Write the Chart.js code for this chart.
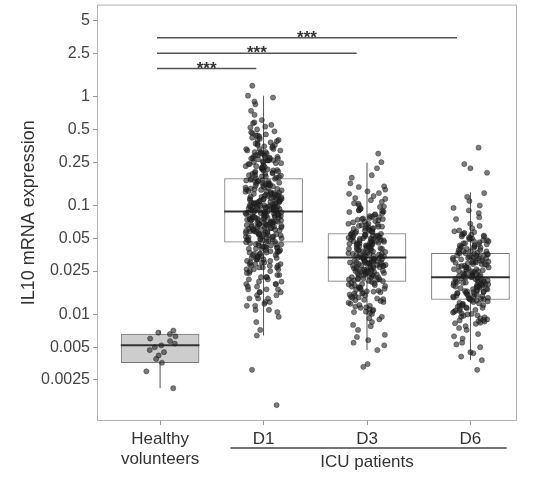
<!DOCTYPE html>
<html lang="en">
<head>
<meta charset="UTF-8">
<title>IL10 mRNA expression</title>
<style>
  body { margin: 0; background: #fff; }
  #wrap { width: 538px; height: 477px; }
</style>
</head>
<body>
<div id="wrap"><canvas id="il10Chart" width="538" height="477"></canvas></div>
<script src="https://cdn.jsdelivr.net/npm/chart.js"></script>
<script>
// categories on the x axis (positions 1..4)
const groups = [['Healthy', 'volunteers'], 'D1', 'D3', 'D6'];
const yTicks = [5, 2.5, 1, 0.5, 0.25, 0.1, 0.05, 0.025, 0.01, 0.005, 0.0025];
const yTickLabels = ['5', '2.5', '1', '0.5', '0.25', '0.1', '0.05', '0.025', '0.01', '0.005', '0.0025'];

// box statistics
const boxQ1 = [0.0036, 0.046, 0.0201, 0.0137];
const boxMedian = [0.0052, 0.088, 0.0333, 0.0219];
const boxQ3 = [0.0066, 0.177, 0.0553, 0.0363];
const whiskerLow = [0.0021, 0.0064, 0.0047, 0.0038];
const whiskerHigh = [0.0071, 1.02, 0.248, 0.132];

// individual samples (estimated from the jittered points)
const healthyValues = [0.0021, 0.003, 0.0036, 0.0039, 0.0042, 0.0045, 0.0047, 0.005, 0.0052, 0.0054,
  0.0057, 0.006, 0.0063, 0.0066, 0.0068, 0.0071];
const d1Values = [1.26, 1.02, 0.98, 0.85, 0.74, 0.68, 0.61, 0.57, 0.53, 0.9,
  0.48, 0.46, 0.44, 0.42, 0.41, 0.4, 0.38, 0.37, 0.36, 0.35, 0.34, 0.33, 0.32, 0.31, 0.3, 0.3,
  0.29, 0.29, 0.28, 0.28, 0.27, 0.27, 0.26, 0.26, 0.26, 0.25, 0.45, 0.39, 0.33, 0.31, 0.27,
  0.245, 0.24, 0.235, 0.23, 0.225, 0.22, 0.215, 0.21, 0.205, 0.2, 0.198, 0.195, 0.19, 0.188,
  0.185, 0.182, 0.18, 0.178, 0.212,
  0.175, 0.172, 0.17, 0.167, 0.165, 0.162, 0.16, 0.158, 0.155, 0.152, 0.15, 0.148, 0.145, 0.142,
  0.14, 0.138, 0.135, 0.133, 0.13, 0.128, 0.126, 0.124, 0.122, 0.12, 0.118, 0.116, 0.114, 0.112,
  0.11, 0.109, 0.107, 0.106, 0.104, 0.103, 0.102, 0.1, 0.099, 0.098, 0.097, 0.096, 0.095, 0.094,
  0.093, 0.092, 0.091, 0.09, 0.089, 0.088, 0.1, 0.105, 0.11, 0.115, 0.12, 0.125, 0.13, 0.095,
  0.098, 0.101, 0.108, 0.113,
  0.087, 0.086, 0.085, 0.084, 0.083, 0.082, 0.081, 0.08, 0.079, 0.078, 0.077, 0.076, 0.075, 0.074,
  0.073, 0.072, 0.071, 0.07, 0.069, 0.068, 0.067, 0.066, 0.065, 0.064, 0.063, 0.062, 0.061, 0.06,
  0.059, 0.058, 0.057, 0.056, 0.055, 0.054, 0.053, 0.052, 0.051, 0.05, 0.049, 0.048, 0.047, 0.046,
  0.085, 0.08, 0.075, 0.07, 0.065, 0.06, 0.055, 0.05, 0.082, 0.078, 0.072, 0.068, 0.063, 0.058,
  0.053, 0.048, 0.077, 0.066,
  0.045, 0.044, 0.043, 0.042, 0.041, 0.04, 0.039, 0.038, 0.037, 0.036, 0.035, 0.034, 0.033, 0.032,
  0.031, 0.03, 0.029, 0.028, 0.027, 0.026, 0.025, 0.044, 0.042, 0.04, 0.038, 0.036, 0.034, 0.032,
  0.03, 0.028, 0.026, 0.041, 0.037, 0.033, 0.029, 0.027,
  0.024, 0.023, 0.022, 0.021, 0.02, 0.019, 0.018, 0.017, 0.016, 0.015, 0.014, 0.013, 0.012, 0.011,
  0.0105, 0.022, 0.019, 0.016, 0.014, 0.012, 0.02, 0.017,
  0.0085, 0.0072, 0.0064, 0.0031, 0.00147,
  0.58, 0.55, 0.5, 0.47, 0.43, 0.4, 0.37, 0.35, 0.33, 0.32, 0.31, 0.3, 0.52, 0.44, 0.36,
  0.29, 0.28, 0.27, 0.26, 0.25, 0.24, 0.23, 0.22, 0.21, 0.2, 0.19, 0.185, 0.265, 0.245, 0.225,
  0.205, 0.195, 0.275, 0.255, 0.215,
  0.176, 0.171, 0.166, 0.161, 0.156, 0.151, 0.146, 0.141, 0.136, 0.131, 0.127, 0.123, 0.119, 0.115,
  0.111, 0.108, 0.105, 0.102, 0.099, 0.096, 0.093, 0.09, 0.168, 0.153, 0.139, 0.126, 0.117, 0.106,
  0.097, 0.091, 0.159, 0.143, 0.121, 0.101, 0.094, 0.134, 0.113, 0.0985, 0.0925, 0.0895,
  0.0875, 0.0845, 0.0815, 0.0785, 0.0755, 0.0725, 0.0695, 0.0665, 0.0635, 0.0605, 0.0575, 0.0545,
  0.0515, 0.0485, 0.0465, 0.086, 0.079, 0.073, 0.067, 0.061, 0.056, 0.051, 0.047, 0.083, 0.074,
  0.064, 0.057, 0.049, 0.081, 0.069, 0.059, 0.052, 0.0865, 0.0765, 0.0675, 0.0585, 0.0505, 0.071,
  0.062, 0.054,
  0.045, 0.043, 0.041, 0.039, 0.037, 0.035, 0.033, 0.031, 0.029, 0.027, 0.025, 0.023, 0.021, 0.044,
  0.04, 0.036, 0.032, 0.028, 0.024, 0.042, 0.034, 0.026, 0.038, 0.03, 0.022,
  0.019, 0.017, 0.015, 0.013, 0.011, 0.018, 0.014, 0.0095, 0.016, 0.0125];
const d3Values = [0.3, 0.25, 0.22, 0.19, 0.16,
  0.148, 0.14, 0.135, 0.128, 0.122, 0.117, 0.112, 0.108, 0.104, 0.1,
  0.097, 0.094, 0.091, 0.088, 0.085, 0.082, 0.08, 0.078, 0.076, 0.074, 0.072, 0.07, 0.068, 0.066,
  0.065, 0.064, 0.063, 0.062, 0.061, 0.06, 0.059, 0.058, 0.057, 0.056, 0.09, 0.075, 0.067,
  0.055, 0.054, 0.053, 0.052, 0.051, 0.05, 0.049, 0.048, 0.047, 0.046, 0.045, 0.044, 0.043, 0.042,
  0.041, 0.04, 0.039, 0.038, 0.037, 0.036, 0.035, 0.034, 0.0335, 0.054, 0.052, 0.05, 0.048, 0.046,
  0.044, 0.042, 0.04, 0.038, 0.036, 0.034, 0.051, 0.047, 0.043, 0.039, 0.035, 0.045, 0.041, 0.037,
  0.0345,
  0.033, 0.0325, 0.032, 0.0315, 0.031, 0.0305, 0.03, 0.0295, 0.029, 0.0285, 0.028, 0.0275, 0.027,
  0.0265, 0.026, 0.0255, 0.025, 0.0245, 0.024, 0.0235, 0.023, 0.0225, 0.022, 0.0215, 0.021, 0.0205,
  0.0202, 0.032, 0.03, 0.028, 0.026, 0.024, 0.022, 0.031, 0.029, 0.027, 0.025, 0.023, 0.021, 0.0335,
  0.0285, 0.0245, 0.0215,
  0.0198, 0.0192, 0.0186, 0.018, 0.0175, 0.017, 0.0165, 0.016, 0.0155, 0.015, 0.0145, 0.014, 0.0135,
  0.013, 0.0125, 0.012, 0.0115, 0.011, 0.0105, 0.0101, 0.019, 0.0178, 0.0168, 0.0158, 0.0148,
  0.0138, 0.0128, 0.0118, 0.0108, 0.0185, 0.0162, 0.0142,
  0.0095, 0.009, 0.0085, 0.008, 0.0072, 0.0065, 0.0058, 0.0052,
  0.0047, 0.0035, 0.0033,
  0.18, 0.15, 0.13, 0.115, 0.105,
  0.098, 0.093, 0.087, 0.083, 0.079, 0.075, 0.071, 0.068, 0.064, 0.061, 0.058, 0.056, 0.089, 0.077,
  0.066, 0.059, 0.073, 0.062,
  0.0545, 0.0535, 0.0525, 0.0515, 0.0505, 0.0495, 0.0485, 0.0475, 0.0465, 0.0455, 0.0445, 0.0435,
  0.0425, 0.0415, 0.0405, 0.0395, 0.0385, 0.0375, 0.0365, 0.0355, 0.0345, 0.034, 0.053, 0.049,
  0.044, 0.04, 0.036, 0.046,
  0.0328, 0.0322, 0.0318, 0.0312, 0.0308, 0.0302, 0.0298, 0.0292, 0.0288, 0.0282, 0.0278, 0.0272,
  0.0268, 0.0262, 0.0258, 0.0252, 0.0248, 0.0242, 0.0238, 0.0232, 0.0228, 0.0222, 0.0218, 0.0212,
  0.0208, 0.0203, 0.03, 0.025,
  0.0195, 0.0188, 0.0182, 0.0172, 0.0163, 0.0152, 0.0143, 0.0133, 0.0122, 0.0112, 0.0103, 0.0176,
  0.0156, 0.0136, 0.0116, 0.0106,
  0.0092, 0.0078, 0.0062, 0.0055];
const d6Values = [0.34, 0.24, 0.22, 0.2, 0.13,
  0.12, 0.11, 0.095, 0.085, 0.075, 0.068, 0.062,
  0.059, 0.057, 0.055, 0.053, 0.051, 0.05, 0.048, 0.047, 0.046, 0.045, 0.044, 0.043, 0.042, 0.041,
  0.04, 0.039, 0.038, 0.037, 0.0365, 0.054, 0.049, 0.044, 0.041, 0.038, 0.052,
  0.036, 0.035, 0.034, 0.033, 0.032, 0.031, 0.03, 0.029, 0.028, 0.027, 0.026, 0.025, 0.024, 0.023,
  0.022, 0.0355, 0.0335, 0.0315, 0.0295, 0.0275, 0.0255, 0.0235, 0.0225, 0.034, 0.03, 0.026, 0.024,
  0.023, 0.0345, 0.0325, 0.0305, 0.0285, 0.0265, 0.0245, 0.0222,
  0.0218, 0.0214, 0.021, 0.0206, 0.0202, 0.0198, 0.0194, 0.019, 0.0186, 0.0182, 0.0178, 0.0174,
  0.017, 0.0166, 0.0162, 0.0158, 0.0154, 0.015, 0.0146, 0.0142, 0.0138, 0.0212, 0.0204, 0.0196,
  0.0188, 0.018, 0.0172, 0.0164, 0.0156, 0.0148, 0.014, 0.02, 0.0185, 0.016, 0.0145,
  0.0135, 0.013, 0.0126, 0.0122, 0.0118, 0.0114, 0.011, 0.0106, 0.0102, 0.0098, 0.0094, 0.009,
  0.0086, 0.0082, 0.0132, 0.0124, 0.0116, 0.0108, 0.01, 0.0092, 0.0084, 0.012, 0.0104, 0.0088,
  0.0078, 0.0072, 0.0066, 0.006, 0.0055, 0.005, 0.0045, 0.0041,
  0.0038, 0.0031,
  0.1, 0.09, 0.078, 0.065,
  0.058, 0.056, 0.054, 0.05, 0.047, 0.045, 0.043, 0.041, 0.039, 0.037, 0.0365, 0.052, 0.048, 0.042,
  0.038,
  0.0358, 0.0348, 0.0338, 0.0328, 0.0318, 0.0308, 0.0298, 0.0288, 0.0278, 0.0268, 0.0258, 0.0248,
  0.0238, 0.0228, 0.0221, 0.033, 0.029, 0.025, 0.0225, 0.031, 0.027, 0.0235,
  0.0216, 0.0208, 0.0199, 0.0191, 0.0183, 0.0176, 0.0168, 0.0161, 0.0153, 0.0147, 0.0141, 0.0139,
  0.0205, 0.0189, 0.0171, 0.0157, 0.0143, 0.0195, 0.0179, 0.0163, 0.0151, 0.0137,
  0.0134, 0.0128, 0.0121, 0.0115, 0.0109, 0.0101, 0.0095, 0.0089, 0.0083, 0.0125, 0.0112, 0.0097,
  0.0087,
  0.0075, 0.0063, 0.0053, 0.0044];
const groupValues = [healthyValues, d1Values, d3Values, d6Values];

// significance brackets (x in category units, y in expression units)
const sigStart = [0.97, 0.97, 0.97];
const sigEnd = [1.93, 2.9, 3.87];
const sigY = [1.81, 2.5, 3.48];
const sigLabels = ['***', '***', '***'];

// ICU patients group bracket under the axis
const icuStart = 1.68;
const icuEnd = 4.35;
const icuLabel = 'ICU patients';

const FONT = "'Liberation Sans', Arial, sans-serif";
const BOX_HALF = 0.38;
const JITTER = [0.15, 0.175, 0.18, 0.18];

// deterministic spread for the horizontal jitter
function spread(k) {
    const s = Math.sin((k + 1) * 12.9898) * 43758.5453;
    return (s - Math.floor(s)) * 2 - 1;
}

const datasets = [];

// whiskers (drawn underneath the boxes)
groups.forEach((g, i) => {
    datasets.push({
        type: 'line', order: 6,
        data: [{ x: i + 1, y: whiskerLow[i] }, { x: i + 1, y: whiskerHigh[i] }],
        borderColor: '#555', borderWidth: 1, pointRadius: 0
    });
});

// boxes as floating bars
datasets.push({
    type: 'bar', order: 5,
    data: groups.map((g, i) => ({ x: i + 1, y: [boxQ1[i], boxQ3[i]] })),
    backgroundColor: ['#cdcdcd', '#ffffff', '#ffffff', '#ffffff'],
    borderColor: '#777', borderWidth: 1, borderSkipped: false,
    barThickness: 78
});

// medians
groups.forEach((g, i) => {
    datasets.push({
        type: 'line', order: 4,
        data: [{ x: i + 1 - BOX_HALF, y: boxMedian[i] }, { x: i + 1 + BOX_HALF, y: boxMedian[i] }],
        borderColor: '#333', borderWidth: 2, pointRadius: 0
    });
});

// jittered points
groupValues.forEach((vals, i) => {
    datasets.push({
        type: 'scatter', order: 1,
        data: vals.map((v, k) => ({ x: i + 1 + spread(k + i * 1000) * JITTER[i], y: v })),
        pointRadius: 2.6,
        backgroundColor: 'rgba(35,35,35,0.6)',
        borderColor: 'rgba(20,20,20,0.6)',
        borderWidth: 0.6
    });
});

// significance lines
sigY.forEach((y, i) => {
    datasets.push({
        type: 'line', order: 0,
        data: [{ x: sigStart[i], y: y }, { x: sigEnd[i], y: y }],
        borderColor: '#555', borderWidth: 1.5, pointRadius: 0
    });
});

const extras = {
    id: 'extras',
    afterDraw(chart) {
        const { ctx, chartArea, scales } = chart;
        ctx.save();
        // panel border
        ctx.strokeStyle = '#b3b3b3';
        ctx.lineWidth = 1;
        ctx.strokeRect(chartArea.left + 0.5, chartArea.top + 0.5,
            chartArea.right - chartArea.left - 1, chartArea.bottom - chartArea.top - 1);

        // stars above the brackets
        ctx.fillStyle = '#333';
        ctx.font = 'bold 17px ' + FONT;
        ctx.textAlign = 'center';
        ctx.textBaseline = 'alphabetic';
        sigLabels.forEach((lab, i) => {
            const x = scales.x.getPixelForValue((sigStart[i] + sigEnd[i]) / 2);
            const y = scales.y.getPixelForValue(sigY[i]);
            ctx.fillText(lab, x, y + 5);
        });

        // ICU patients bracket
        const y0 = chartArea.bottom + 27;
        ctx.strokeStyle = '#444';
        ctx.lineWidth = 1.5;
        ctx.beginPath();
        ctx.moveTo(scales.x.getPixelForValue(icuStart), y0);
        ctx.lineTo(scales.x.getPixelForValue(icuEnd), y0);
        ctx.stroke();
        ctx.font = '17px ' + FONT;
        ctx.textBaseline = 'middle';
        ctx.fillStyle = '#333';
        ctx.fillText(icuLabel, scales.x.getPixelForValue(3), y0 + 14);
        ctx.restore();
    }
};

const ctx = document.getElementById('il10Chart').getContext('2d');
new Chart(ctx, {
    type: 'bar',
    data: { datasets: datasets },
    plugins: [extras],
    options: {
        responsive: false,
        animation: false,
        layout: { padding: { top: 4, right: 21, left: 0, bottom: 0 } },
        plugins: { legend: { display: false }, tooltip: { enabled: false } },
        scales: {
            x: {
                type: 'linear',
                offset: false,
                min: 0.39, max: 4.45,
                afterBuildTicks: s => { s.ticks = groups.map((g, i) => ({ value: i + 1 })); },
                afterFit: s => { s.height = 56; s.paddingLeft = 0; s.paddingRight = 0; },
                ticks: {
                    autoSkip: false, maxRotation: 0, padding: 4,
                    color: '#333', font: { family: FONT, size: 17 },
                    callback: v => groups[v - 1]
                },
                grid: { drawOnChartArea: false, offset: false, color: '#999', tickLength: 4 },
                border: { display: false }
            },
            y: {
                type: 'logarithmic',
                min: 0.00105, max: 7,
                afterBuildTicks: s => { s.ticks = yTicks.map(v => ({ value: v })); },
                afterFit: s => { s.width = 97; s.paddingTop = 0; s.paddingBottom = 0; },
                ticks: {
                    autoSkip: false, padding: 3,
                    color: '#444', font: { family: FONT, size: 16 },
                    callback: v => yTickLabels[yTicks.indexOf(v)]
                },
                grid: { drawOnChartArea: false, color: '#999', tickLength: 4 },
                border: { display: false },
                title: {
                    display: true, text: 'IL10 mRNA expression',
                    color: '#333', font: { family: FONT, size: 18 },
                    padding: { top: 18, bottom: 0 }
                }
            }
        }
    }
});
</script>
</body>
</html>
